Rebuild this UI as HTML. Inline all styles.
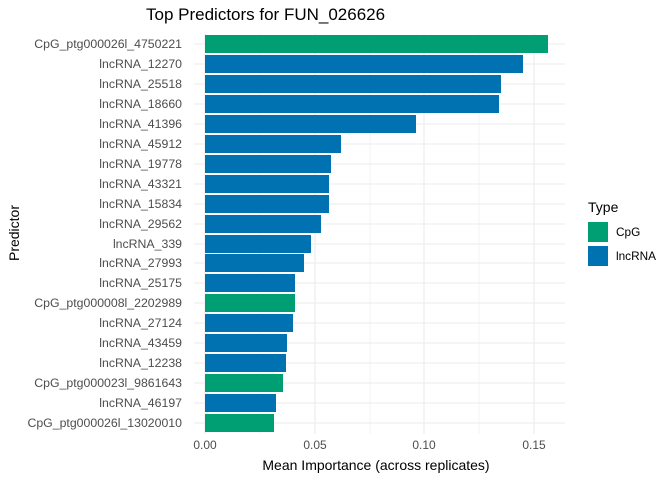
<!DOCTYPE html>
<html><head><meta charset="utf-8"><style>body{margin:0;background:#fff}</style></head><body>
<svg width="672" height="480" xmlns="http://www.w3.org/2000/svg" font-family="Liberation Sans, sans-serif">
<rect width="672" height="480" fill="#fff"/>
<g stroke="#ebebeb">
<line x1="260" x2="260" y1="34" y2="434" stroke-width="0.6"/>
<line x1="370" x2="370" y1="34" y2="434" stroke-width="0.6"/>
<line x1="479" x2="479" y1="34" y2="434" stroke-width="0.6"/>
<line x1="205" x2="205" y1="34" y2="434" stroke-width="1.1"/>
<line x1="315" x2="315" y1="34" y2="434" stroke-width="1.1"/>
<line x1="424" x2="424" y1="34" y2="434" stroke-width="1.1"/>
<line x1="534" x2="534" y1="34" y2="434" stroke-width="1.1"/>
<g stroke-width="1.1">
<line x1="194" x2="565" y1="44" y2="44"/><line x1="194" x2="565" y1="64" y2="64"/><line x1="194" x2="565" y1="84" y2="84"/><line x1="194" x2="565" y1="104" y2="104"/><line x1="194" x2="565" y1="124" y2="124"/><line x1="194" x2="565" y1="144" y2="144"/><line x1="194" x2="565" y1="164" y2="164"/><line x1="194" x2="565" y1="184" y2="184"/><line x1="194" x2="565" y1="204" y2="204"/><line x1="194" x2="565" y1="224" y2="224"/><line x1="194" x2="565" y1="244" y2="244"/><line x1="194" x2="565" y1="263" y2="263"/><line x1="194" x2="565" y1="283" y2="283"/><line x1="194" x2="565" y1="303" y2="303"/><line x1="194" x2="565" y1="323" y2="323"/><line x1="194" x2="565" y1="343" y2="343"/><line x1="194" x2="565" y1="363" y2="363"/><line x1="194" x2="565" y1="383" y2="383"/><line x1="194" x2="565" y1="403" y2="403"/><line x1="194" x2="565" y1="423" y2="423"/>
</g></g>
<g>
<rect x="205" y="35" width="343" height="18" fill="#009E73"/>
<rect x="205" y="55" width="318" height="18" fill="#0072B2"/>
<rect x="205" y="75" width="296" height="18" fill="#0072B2"/>
<rect x="205" y="95" width="294" height="18" fill="#0072B2"/>
<rect x="205" y="115" width="211" height="18" fill="#0072B2"/>
<rect x="205" y="135" width="136" height="18" fill="#0072B2"/>
<rect x="205" y="155" width="126" height="18" fill="#0072B2"/>
<rect x="205" y="175" width="124" height="18" fill="#0072B2"/>
<rect x="205" y="195" width="124" height="18" fill="#0072B2"/>
<rect x="205" y="215" width="116" height="18" fill="#0072B2"/>
<rect x="205" y="235" width="106" height="18" fill="#0072B2"/>
<rect x="205" y="254" width="99" height="18" fill="#0072B2"/>
<rect x="205" y="274" width="90" height="18" fill="#0072B2"/>
<rect x="205" y="294" width="90" height="18" fill="#009E73"/>
<rect x="205" y="314" width="88" height="18" fill="#0072B2"/>
<rect x="205" y="334" width="82" height="18" fill="#0072B2"/>
<rect x="205" y="354" width="81" height="18" fill="#0072B2"/>
<rect x="205" y="374" width="78" height="18" fill="#009E73"/>
<rect x="205" y="394" width="71" height="18" fill="#0072B2"/>
<rect x="205" y="414" width="69" height="18" fill="#009E73"/>
</g>
<g font-size="12.3" fill="#4d4d4d" text-anchor="end">
<text x="182" y="48">CpG_ptg000026l_4750221</text>
<text x="182" y="68">lncRNA_12270</text>
<text x="182" y="88">lncRNA_25518</text>
<text x="182" y="108">lncRNA_18660</text>
<text x="182" y="128">lncRNA_41396</text>
<text x="182" y="148">lncRNA_45912</text>
<text x="182" y="168">lncRNA_19778</text>
<text x="182" y="188">lncRNA_43321</text>
<text x="182" y="208">lncRNA_15834</text>
<text x="182" y="228">lncRNA_29562</text>
<text x="182" y="248">lncRNA_339</text>
<text x="182" y="267">lncRNA_27993</text>
<text x="182" y="287">lncRNA_25175</text>
<text x="182" y="307">CpG_ptg000008l_2202989</text>
<text x="182" y="327">lncRNA_27124</text>
<text x="182" y="347">lncRNA_43459</text>
<text x="182" y="367">lncRNA_12238</text>
<text x="182" y="387">CpG_ptg000023l_9861643</text>
<text x="182" y="407">lncRNA_46197</text>
<text x="182" y="427">CpG_ptg000026l_13020010</text>
</g>
<text x="146" y="20" font-size="17" fill="#000">Top Predictors for FUN_026626</text>
<g font-size="12" fill="#4d4d4d" text-anchor="middle">
<text x="205" y="449">0.00</text>
<text x="315" y="449">0.05</text>
<text x="424" y="449">0.10</text>
<text x="534" y="449">0.15</text>
</g>
<text x="376" y="470" font-size="14" text-anchor="middle" fill="#000">Mean Importance (across replicates)</text>
<text transform="translate(19,233) rotate(-90)" font-size="14" text-anchor="middle" fill="#000">Predictor</text>
<text x="588" y="212" font-size="14" fill="#000">Type</text>
<rect x="588" y="222" width="20" height="20" fill="#009E73"/>
<rect x="588" y="246" width="20" height="20" fill="#0072B2"/>
<text x="616" y="236" font-size="11.8" fill="#000">CpG</text>
<text x="616" y="260" font-size="11.8" fill="#000">lncRNA</text>
</svg>
</body></html>
